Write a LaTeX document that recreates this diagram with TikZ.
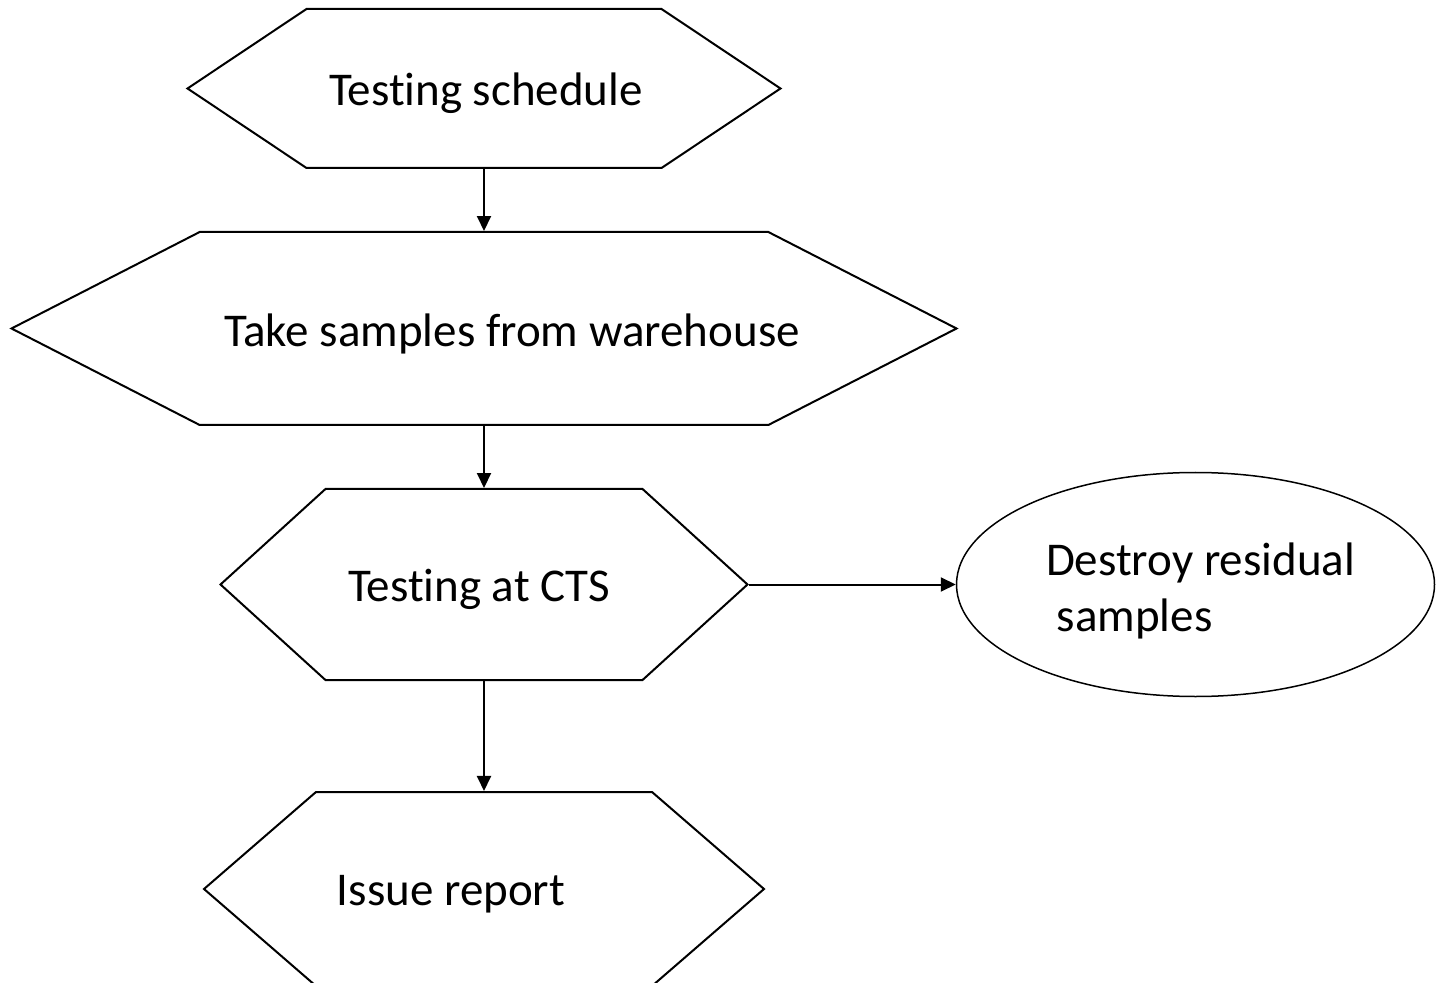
\documentclass[tikz,border=0pt]{standalone}
\usepackage{fontspec}
\setmainfont{Carlito}[Ligatures={NoCommon,NoContextual}, Contextuals=NoAlternate]
\usepackage{tikz}
\usetikzlibrary{shapes,arrows.meta,positioning}
\tikzset{
	hexblock/.style = {draw, fill=white, signal, signal to=west and east, line width=1pt, inner sep=0pt},
	endblock/.style = {draw, fill=white, ellipse, line width=0.75pt, minimum width=239pt, minimum height=112pt},
	flow/.style = {-{Triangle[length=7.5pt,width=7pt]}, line width=1pt},
	every label/.style = {yshift=-2.5pt}
}
% keeps t and i apart (no ligature)
\newcommand{\Testing}{Test\kern0pt ing}

\begin{document}
\begin{tikzpicture}[auto, font=\fontsize{23.5}{28}\selectfont]
	\useasboundingbox (0,0) rectangle (719.5pt,-491.5pt);
	\node [hexblock, minimum width=296.5pt, minimum height=79.5pt, signal pointer angle=67.5,
		label={[xshift=1pt]center:\Testing{} schedule}] (A) at (242pt,-44.25pt) {};
	\node [hexblock, below of=A, node distance=120pt, minimum width=472.5pt, minimum height=96.5pt,
		signal pointer angle=54.3, label={[xshift=14pt]center:Take samples from warehouse}] (B) {};
	\node [hexblock, below of=B, node distance=128pt, minimum width=263.5pt, minimum height=95.5pt,
		signal pointer angle=84.6, label={[xshift=-2.5pt]center:\Testing{} at CTS}] (C) {};
	\node [hexblock, below of=C, node distance=152.25pt, minimum width=280pt, minimum height=97pt,
		signal pointer angle=81.8, label={[xshift=-16.5pt]center:Issue report}] (D) {};
	\node [endblock, right of=C, node distance=355.75pt,
		label={[align=left, xshift=2.5pt, yshift=-0.5pt]center:Destroy residual\\\hspace*{0.23em}samples}] (E) {};

	\draw [flow] (A) -- (B);
	\draw [flow] (B) -- (C);
	\draw [flow] (C) -- (D);
	\draw [flow] (C) -- (E);
\end{tikzpicture}
\end{document}
